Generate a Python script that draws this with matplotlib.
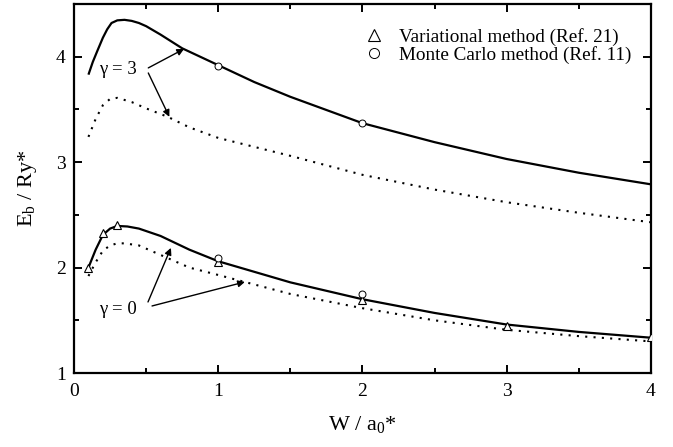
import matplotlib
matplotlib.use("Agg")
import matplotlib.pyplot as plt
from matplotlib.ticker import MultipleLocator

plt.rcParams['font.family'] = ['Liberation Serif', 'DejaVu Serif']
plt.rcParams['mathtext.fontset'] = 'custom'
plt.rcParams['mathtext.rm'] = 'Liberation Serif'
plt.rcParams['mathtext.it'] = 'Liberation Serif:italic'

# gamma = 3, solid (present work)
g3_solid_x = [0.1, 0.13, 0.16, 0.2, 0.23, 0.26, 0.3, 0.35, 0.4, 0.45, 0.5, 0.6, 0.75, 1.0, 1.25, 1.5, 2.0, 2.5, 3.0, 3.5, 4.0]
g3_solid_y = [3.83, 3.95, 4.05, 4.18, 4.26, 4.32, 4.345, 4.35, 4.34, 4.32, 4.29, 4.21, 4.08, 3.92, 3.76, 3.62, 3.37, 3.19, 3.03, 2.90, 2.79]
# gamma = 3, dotted
g3_dot_x = [0.1, 0.15, 0.2, 0.25, 0.3, 0.4, 0.5, 0.65, 0.8, 1.0, 1.5, 2.0, 2.5, 3.0, 3.5, 4.0]
g3_dot_y = [3.24, 3.41, 3.54, 3.60, 3.61, 3.57, 3.51, 3.43, 3.33, 3.23, 3.06, 2.88, 2.74, 2.62, 2.52, 2.43]
# gamma = 0, solid
g0_solid_x = [0.1, 0.15, 0.2, 0.25, 0.3, 0.37, 0.45, 0.6, 0.8, 1.0, 1.25, 1.5, 2.0, 2.5, 3.0, 3.5, 4.0]
g0_solid_y = [2.0, 2.17, 2.31, 2.37, 2.395, 2.39, 2.37, 2.30, 2.17, 2.06, 1.96, 1.86, 1.70, 1.57, 1.46, 1.39, 1.335]
# gamma = 0, dotted
g0_dot_x = [0.1, 0.15, 0.2, 0.25, 0.3, 0.35, 0.45, 0.55, 0.8, 1.0, 1.5, 2.0, 2.5, 3.0, 3.5, 4.0]
g0_dot_y = [1.92, 2.05, 2.16, 2.21, 2.23, 2.23, 2.21, 2.15, 2.00, 1.93, 1.75, 1.615, 1.50, 1.41, 1.35, 1.30]

# Variational method (Ref. 21)
var_x = [0.1, 0.2, 0.3, 1.0, 2.0, 3.0, 4.0]
var_y = [2.0, 2.33, 2.40, 2.05, 1.69, 1.45, 1.34]
# Monte Carlo method (Ref. 11)
mc_x = [1.0, 2.0, 1.0, 2.0]
mc_y = [3.915, 3.375, 2.09, 1.75]

fig = plt.figure(figsize=(6.73, 4.47), dpi=100)
ax = fig.add_axes([0.110, 0.1655, 0.857, 0.8255])

ax.plot(g3_solid_x, g3_solid_y, color='black', lw=1.6, solid_capstyle='butt', solid_joinstyle='round')
ax.plot(g3_dot_x, g3_dot_y, color='black', lw=1.5, linestyle=(0, (1, 3)))
ax.plot(g0_solid_x, g0_solid_y, color='black', lw=1.6, solid_capstyle='butt', solid_joinstyle='round')
ax.plot(g0_dot_x, g0_dot_y, color='black', lw=1.5, linestyle=(0, (1, 3)))

ax.plot(var_x, var_y, linestyle='none', marker='^', markersize=6, markerfacecolor='white',
        markeredgecolor='black', markeredgewidth=0.8, label='Variational method (Ref. 21)', zorder=5)
ax.plot(mc_x, mc_y, linestyle='none', marker='o', markersize=5, markerfacecolor='white',
        markeredgecolor='black', markeredgewidth=0.7, label='Monte Carlo method (Ref. 11)', zorder=5)

ax.set_xlim(0, 4)
ax.set_ylim(1, 4.5)
ax.xaxis.set_major_locator(MultipleLocator(1))
ax.xaxis.set_minor_locator(MultipleLocator(0.5))
ax.yaxis.set_major_locator(MultipleLocator(1))
ax.yaxis.set_minor_locator(MultipleLocator(0.5))
ax.tick_params(which='both', direction='in', top=True, right=True, width=1.4, labelsize=14)
ax.tick_params(which='major', length=6)
ax.tick_params(which='minor', length=3.5)
ax.tick_params(axis='x', pad=7)
ax.tick_params(axis='y', pad=6)
for s in ax.spines.values():
    s.set_linewidth(1.6)

ax.set_xlabel('W / a$_\\mathrm{0}$*', fontsize=16, labelpad=10)
ax.set_ylabel('E$_\\mathrm{b}$ / Ry*', fontsize=16, labelpad=12)

arrow = dict(arrowstyle='-|>', color='black', lw=1.0, mutation_scale=10, shrinkA=0, shrinkB=0)
ax.text(0.305, 3.88, 'γ = 3', fontsize=13.5, ha='center', va='center')
ax.annotate('', xy=(0.763, 4.074), xytext=(0.515, 3.894), arrowprops=arrow)
ax.annotate('', xy=(0.661, 3.43), xytext=(0.515, 3.846), arrowprops=arrow)
ax.text(0.305, 1.60, 'γ = 0', fontsize=13.5, ha='center', va='center')
ax.annotate('', xy=(0.672, 2.187), xytext=(0.513, 1.674), arrowprops=arrow)
ax.annotate('', xy=(1.185, 1.864), xytext=(0.541, 1.636), arrowprops=arrow)

leg = ax.legend(loc='upper left', bbox_to_anchor=(0.503, 0.935), frameon=False, fontsize=13.75,
                handlelength=1.0, handletextpad=0.85, labelspacing=0.0, borderpad=0, borderaxespad=0,
                markerscale=1.45)

fig.savefig('out.png', dpi=100)
